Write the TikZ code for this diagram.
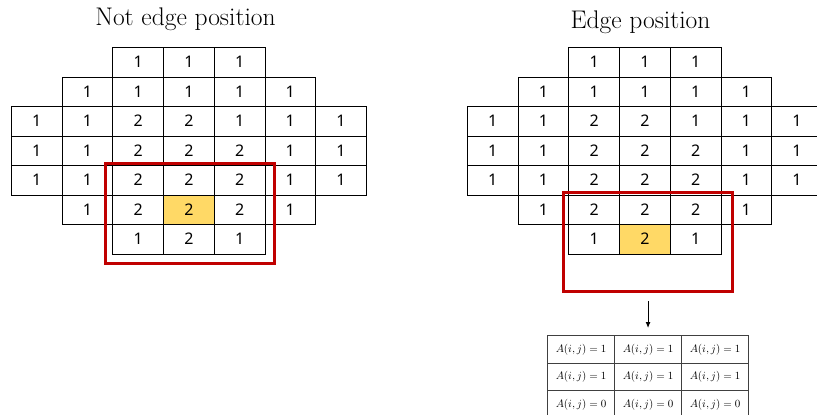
\documentclass[tikz,border=0pt]{standalone}
\usepackage{fontspec}
\newfontfamily\numfont{Noto Sans}
\usetikzlibrary{arrows.meta}
\definecolor{boxred}{HTML}{C00000}
\definecolor{hl}{HTML}{FFD966}
\newcommand\gridrow[5]{%
  \foreach \v [count=\i from #4] in {#5} {
    \node[cell] (#1-#3-\i) at ({#2+50.7*\i},{47+29.5*#3}) {\v};
  }}
\begin{document}
\begin{tikzpicture}[x=1pt,y=-1pt,
  cell/.style={draw=black, line width=0.9pt, minimum width=50.7pt, minimum height=29.5pt,
    inner sep=0pt, anchor=north west, font=\numfont\fontsize{16}{16}\selectfont},
  hlcell/.style={fill=hl, minimum width=50.7pt, minimum height=29.5pt, inner sep=0pt, anchor=north west},
  redbox/.style={draw=boxred, line width=3pt, inner sep=0pt, anchor=north west},
  tcell/.style={draw=black!75, line width=1.1pt, minimum width=67pt, minimum height=27.5pt,
    inner sep=0pt, anchor=north west, font=\fontsize{10.6}{12}\selectfont},
  title/.style={anchor=base, font=\fontsize{25.5}{28}\selectfont, text=black}]
\clip (0,0) rectangle (817,415);
\fill[white] (0,0) rectangle (817,415);
% titles
\node[title] (t1) at (185.5,25) {Not edge position};
\node[title] (t2) at (640.5,28) {Edge position};
% highlighted cells
\node[hlcell] (hl1) at ({11+50.7*3},{47+29.5*5}) {};
\node[hlcell] (hl2) at ({467+50.7*3},{47+29.5*6}) {};
% left grid
\gridrow{L}{11}{0}{2}{1,1,1}
\gridrow{L}{11}{1}{1}{1,1,1,1,1}
\gridrow{L}{11}{2}{0}{1,1,2,2,1,1,1}
\gridrow{L}{11}{3}{0}{1,1,2,2,2,1,1}
\gridrow{L}{11}{4}{0}{1,1,2,2,2,1,1}
\gridrow{L}{11}{5}{1}{1,2,2,2,1}
\gridrow{L}{11}{6}{2}{1,2,1}
% right grid
\gridrow{R}{467}{0}{2}{1,1,1}
\gridrow{R}{467}{1}{1}{1,1,1,1,1}
\gridrow{R}{467}{2}{0}{1,1,2,2,1,1,1}
\gridrow{R}{467}{3}{0}{1,1,2,2,2,1,1}
\gridrow{R}{467}{4}{0}{1,1,2,2,2,1,1}
\gridrow{R}{467}{5}{1}{1,2,2,2,1}
\gridrow{R}{467}{6}{2}{1,2,1}
% red boxes
\node[redbox, minimum width=169pt, minimum height=100pt] (RB1) at (104,162) {};
\node[redbox, minimum width=169pt, minimum height=99pt] (RB2) at (562,191) {};
% table
\foreach \r/\vals in {0/{1,1,1},1/{1,1,1},2/{0,0,0}} {
  \foreach \v [count=\c from 0] in \vals {
    \node[tcell] (T-\r-\c) at ({547+67*\c},{335+27.5*\r}) {$A(i,j)=\v$};
  }
}
\draw[line width=0.9pt, -{Latex[length=6pt,width=5pt]}] ([yshift=-8pt]RB2.south -| T-0-1.north) -- ([yshift=7pt]T-0-1.north);
\end{tikzpicture}
\end{document}
